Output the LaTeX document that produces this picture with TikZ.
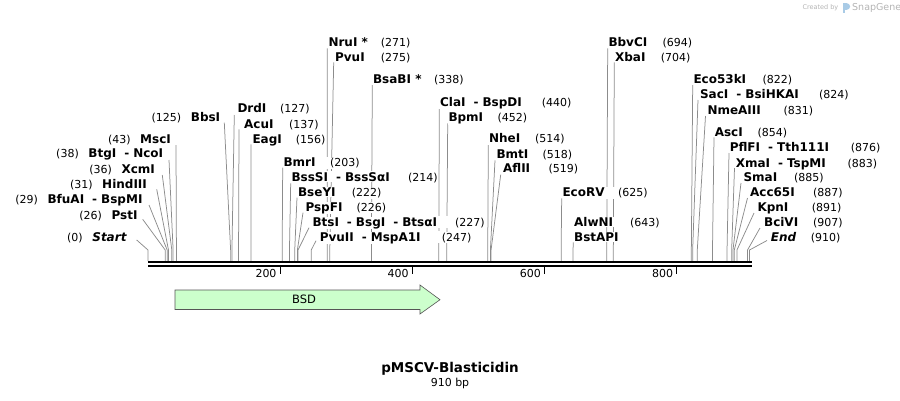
\documentclass[tikz,border=0pt]{standalone}
\usepackage{fontspec}
\setmainfont{DejaVu Sans}
\pgfdeclarelayer{bg}
\pgfsetlayers{bg,main}
\definecolor{conncol}{HTML}{8C8C8C}
\definecolor{bsdfill}{HTML}{CCFFCC}
\definecolor{bsdline}{HTML}{555555}
\definecolor{logoblue}{HTML}{A9CBE6}
\definecolor{logogray}{HTML}{B4B4B4}
\newcommand\dsh{\hskip 8pt-\hskip 4pt}
\tikzset{
  nm/.style={font=\bfseries\fontsize{12}{14}\selectfont, inner sep=0.6pt, fill=white, anchor=base west},
  nu/.style={font=\fontsize{11}{13}\selectfont, inner sep=0.6pt, fill=white, anchor=base west},
  conn/.style={draw=conncol, line width=0.75pt},
  ticklbl/.style={font=\fontsize{11}{13}\selectfont, anchor=east, inner sep=0pt},
}
% right-hand label: id, site(bp), top x, top y, name x, text centre y, name, number x, number
\newcommand\rsite[9]{%
  \coordinate (#1-s) at ({148+0.661*#2},261);
  \coordinate (#1-k) at ({148+0.661*#2},250);
  \coordinate (#1-t) at (#3,#4);
  \node[nm] (#1) at (#5,{#6+4.3}) {#7};
  \node[nu] (#1-n) at (#8,{#6+4.3}) {#9};
  \fill[white] (#1.north east) rectangle (#1-n.south west);
  \begin{pgfonlayer}{bg}\draw[conn] (#1-t) -- (#1-k) -- (#1-s);\end{pgfonlayer}
}
% left-hand label: id, site(bp), top x, top y, name end x, text centre y, name, number
\newcommand\lsite[8]{%
  \coordinate (#1-s) at ({148+0.661*#2},261);
  \coordinate (#1-k) at ({148+0.661*#2},250);
  \coordinate (#1-t) at (#3,#4);
  \node[nm, anchor=base east] (#1) at (#5,{#6+4.3}) {#7};
  \node[nu, anchor=base east] (#1-n) at ([xshift=-8pt]#1.base west) {#8};
  \fill[white] (#1-n.north east) rectangle (#1.south west);
  \begin{pgfonlayer}{bg}\draw[conn] (#1-t) -- (#1-k) -- (#1-s);\end{pgfonlayer}
}
\begin{document}
\begin{tikzpicture}[x=1pt,y=-1pt]
\useasboundingbox (0,0) rectangle (900,400);

% sequence line
\fill (148,261) rectangle (752,263.3);
\fill (148,265) rectangle (752,267.3);
\foreach \v in {200,400,600,800}{
  \draw[line width=1.3pt] ({148+0.661*\v},267) -- ++(0,7);
  \node[ticklbl] at ({148+0.661*\v-3.5},273.5) {\v};
}

% feature
\draw[draw=bsdline, fill=bsdfill, line width=0.6pt]
  (175,290) -- (420,290) -- (420,285) -- (440,299.7) -- (420,314) -- (420,309.5) -- (175,309.5) -- cycle;
\node[font=\fontsize{11.5}{13}\selectfont] (bsd) at (304,299.5) {BSD};

% left labels
\lsite{start}{0}{136.7}{240}{127.3}{236.7}{\itshape Start}{(0)}
\lsite{pst}{26}{142.7}{219.3}{138.3}{215}{PstI}{(26)}
\lsite{bfu}{29}{149}{205}{143.3}{199}{BfuAI\dsh BspMI}{(29)}
\lsite{hind}{31}{156.7}{189.3}{147.7}{184}{HindIII}{(31)}
\lsite{xcm}{36}{162.3}{175}{155.7}{169.3}{XcmI}{(36)}
\lsite{btg}{38}{169}{160}{164}{153.3}{BtgI\dsh NcoI}{(38)}
\lsite{msc}{43}{176}{145}{171.7}{139.3}{MscI}{(43)}
\lsite{bbs}{125}{224.3}{122.7}{221}{116.7}{BbsI}{(125)}

% right labels
\rsite{drd}{127}{234.3}{115}{236.7}{108.3}{DrdI}{279.3}{(127)}
\rsite{acu}{137}{239}{129.3}{243.3}{124}{AcuI}{288.3}{(137)}
\rsite{eag}{156}{251}{144.3}{251.7}{139.3}{EagI}{295}{(156)}
\rsite{bmr}{203}{282.7}{167.7}{282.7}{162.3}{BmrI}{329.3}{(203)}
\rsite{bsss}{214}{290.7}{183.3}{290.7}{176.7}{BssSI\dsh BssSαI}{407.3}{(214)}
\rsite{bsey}{222}{297}{197.7}{297.3}{192.3}{BseYI}{351}{(222)}
\rsite{pspf}{226}{303}{212.7}{304.7}{206.7}{PspFI}{355.7}{(226)}
\rsite{bts}{227}{309}{227.7}{311.7}{221.7}{BtsI\dsh BsgI\dsh BtsαI}{454.3}{(227)}
\rsite{pvuii}{247}{316}{240.7}{319}{236.7}{PvuII\dsh MspA1I}{441}{(247)}
\rsite{nru}{271}{327.3}{48.3}{327.7}{42.3}{NruI *}{380}{(271)}
\rsite{pvu}{275}{333.7}{62.3}{334.3}{56.7}{PvuI}{380}{(275)}
\rsite{bsab}{338}{372.3}{85}{372.3}{79}{BsaBI *}{433.3}{(338)}
\rsite{cla}{440}{439.3}{109}{439.3}{101.7}{ClaI\dsh BspDI}{541}{(440)}
\rsite{bpm}{452}{447.7}{123.3}{447.7}{117.3}{BpmI}{496.7}{(452)}
\rsite{nhe}{514}{488.3}{145}{488.3}{138.3}{NheI}{534.3}{(514)}
\rsite{bmt}{518}{495}{160.3}{495.7}{154}{BmtI}{541.7}{(518)}
\rsite{afl}{519}{500.7}{174.7}{502.3}{168.3}{AflII}{547.7}{(519)}
\rsite{ecorv}{625}{561.7}{198.3}{561.7}{192.3}{EcoRV}{617.3}{(625)}
\rsite{alwn}{643}{573.3}{242.3}{573.3}{222.3}{AlwNI}{629.3}{(643)}
\node[nm] (bstap) at (573.3,241) {BstAPI};
\rsite{bbvc}{694}{607.7}{48.3}{607.7}{42.3}{BbvCI}{661.7}{(694)}
\rsite{xba}{704}{614.3}{62.3}{614.3}{56.7}{XbaI}{660}{(704)}
\rsite{ecofs}{822}{692.7}{85}{692.7}{79}{Eco53kI}{761.7}{(822)}
\rsite{sac}{824}{698}{100}{699.3}{94}{SacI\dsh BsiHKAI}{818.3}{(824)}
\rsite{nme}{831}{705.5}{116}{706.7}{110}{NmeAIII}{782.7}{(831)}
\rsite{asc}{854}{714}{137.3}{714}{131.7}{AscI}{756.7}{(854)}
\rsite{pflf}{876}{729}{153}{729}{147.3}{PflFI\dsh Tth111I}{850}{(876)}
\rsite{xma}{883}{734.5}{168}{735}{162.7}{XmaI\dsh TspMI}{846.7}{(883)}
\rsite{sma}{885}{741}{183}{742.7}{177.3}{SmaI}{793.3}{(885)}
\rsite{acc}{887}{747.5}{198}{749.3}{192.3}{Acc65I}{812.3}{(887)}
\rsite{kpn}{891}{754}{213}{756.7}{206.7}{KpnI}{811}{(891)}
\rsite{bci}{907}{760}{228}{763.3}{222.3}{BciVI}{812.3}{(907)}
\rsite{fin}{910}{767}{240.5}{770}{236.7}{\itshape End}{810}{(910)}

% title
\node[font=\bfseries\fontsize{13.5}{16}\selectfont] (title) at (450,369) {pMSCV-Blasticidin};
\node[font=\fontsize{11}{13}\selectfont] (len) at (450,383.5) {910 bp};

% logo
\node[font=\fontsize{6.5}{8}\selectfont, text=logogray, anchor=east, inner sep=0] (cby) at (838.5,7.5) {Created by};
\fill[logoblue] (843,2.5) rectangle (845.2,13);
\fill[logoblue] (845.2,2.5) .. controls (851.5,2.5) and (851.5,10) .. (845.2,10) -- cycle;
\node[font=\fontsize{9.5}{11}\selectfont, text=logogray, anchor=west, inner sep=0] (sg) at (852,7.5) {SnapGene};
\end{tikzpicture}
\end{document}
